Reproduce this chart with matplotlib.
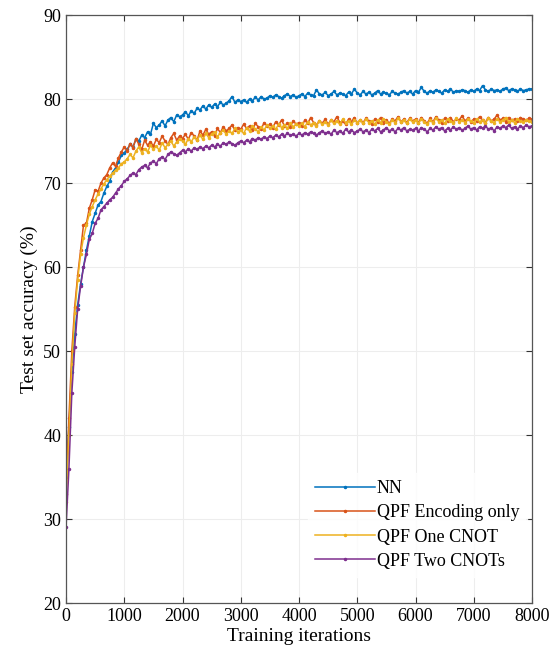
import numpy as np
import matplotlib
matplotlib.use("Agg")
import matplotlib.pyplot as plt

plt.rcParams['font.family'] = ['Liberation Serif', 'DejaVu Serif']
plt.rcParams['mathtext.fontset'] = 'stix'

# test accuracy every 50 training iterations
iterations = list(range(0, 8001, 50))

nn = [
    35.0, 41.0, 47.5, 52.0, 55.5, 58.0, 60.0, 62.0, 63.7, 65.4, 66.4, 67.4, 67.8, 68.8, 69.6, 70.2, 71.3, 71.8, 72.5, 73.3,
    73.6, 74.0, 74.6, 74.3, 75.2, 75.0, 75.7, 75.4, 76.1, 75.8, 77.1, 76.6, 76.9, 77.4, 76.8, 77.5, 77.8, 77.3, 78.1, 77.9,
    78.1, 78.5, 78.0, 78.6, 78.3, 78.9, 78.7, 79.2, 78.8, 79.3, 79.0, 79.4, 79.1, 79.6, 79.3, 79.5, 79.8, 80.3, 79.6, 79.9,
    79.7, 79.9, 79.6, 80.0, 79.8, 80.2, 79.9, 80.3, 80.0, 80.1, 80.4, 80.2, 80.5, 80.3, 80.1, 80.4, 80.6, 80.3, 80.5, 80.2,
    80.4, 80.6, 80.3, 80.7, 80.5, 80.4, 81.1, 80.6, 80.5, 80.8, 80.4, 80.6, 80.9, 80.5, 80.7, 80.6, 80.4, 80.8, 80.6, 81.2,
    80.7, 80.5, 80.9, 80.6, 80.8, 80.5, 80.7, 81.0, 80.6, 80.8, 80.7, 80.5, 80.9, 80.7, 80.6, 80.8, 81.0, 80.7, 80.9, 80.6,
    81.0, 80.8, 81.4, 80.9, 80.7, 81.0, 80.8, 81.1, 80.9, 80.7, 81.1, 80.9, 81.2, 80.8, 81.0, 80.9, 81.1, 81.0, 80.8, 81.1,
    80.9, 81.2, 81.0, 81.6, 81.1, 80.9, 81.2, 81.0, 81.1, 80.9, 81.2, 81.3, 81.0, 81.2, 81.1, 80.9, 81.2, 81.0, 81.1, 81.2,
    81.2,
]

qpf_encoding = [
    33.0, 42.0, 50.0, 55.3, 59.0, 62.0, 65.0, 65.2, 67.0, 68.0, 69.2, 69.0, 70.0, 70.6, 71.0, 71.8, 72.4, 72.0, 73.0, 73.7,
    74.3, 73.8, 74.7, 74.2, 75.3, 74.6, 74.0, 75.1, 74.5, 74.9, 74.4, 75.2, 74.8, 75.6, 75.0, 74.6, 75.4, 75.9, 75.1, 75.6,
    75.3, 75.8, 75.2, 76.0, 75.6, 75.1, 76.2, 75.7, 76.4, 75.8, 76.1, 75.6, 76.5, 76.0, 76.7, 76.2, 76.5, 76.9, 76.3, 76.6,
    76.4, 77.0, 76.5, 76.8, 76.3, 77.1, 76.7, 76.4, 77.2, 76.8, 77.0, 76.6, 77.3, 76.9, 77.5, 76.8, 77.1, 76.7, 77.4, 77.0,
    77.2, 76.8, 77.5, 77.1, 77.8, 77.2, 76.9, 77.4, 77.1, 77.6, 77.0, 77.5, 77.3, 77.9, 77.2, 77.4, 77.0, 77.6, 77.3, 77.8,
    77.1, 77.5, 77.2, 77.7, 77.4, 77.0, 77.6, 77.3, 77.8, 77.2, 77.5, 77.1, 77.6, 77.4, 77.9, 77.3, 77.6, 77.2, 77.7, 77.4,
    77.6, 77.2, 77.8, 77.4, 77.1, 77.7, 77.3, 77.9, 77.5, 77.2, 77.7, 77.4, 77.8, 77.3, 77.6, 77.5, 78.0, 77.4, 77.7, 77.3,
    77.6, 77.4, 77.9, 77.5, 77.2, 77.8, 77.4, 77.6, 78.1, 77.5, 77.7, 77.3, 77.8, 77.5, 77.6, 77.4, 77.8, 77.6, 77.5, 77.7,
    77.6,
]

qpf_one_cnot = [
    32.0, 40.0, 48.5, 54.5, 58.5, 61.5, 63.5, 65.0, 66.3, 67.2, 68.0, 68.7, 69.3, 69.9, 70.4, 70.8, 71.2, 71.5, 71.8, 72.3,
    72.5, 72.9, 73.4, 73.0, 73.8, 74.3, 73.6, 74.1, 73.7, 74.5, 74.0, 74.4, 73.9, 74.8, 74.2, 74.6, 75.0, 74.4, 74.9, 75.2,
    75.0, 74.6, 75.3, 74.9, 75.5, 75.1, 75.7, 75.2, 75.9, 75.4, 75.8, 76.1, 75.5, 76.0, 76.3, 75.8, 76.2, 75.9, 76.5, 76.1,
    76.3, 75.9, 76.6, 76.2, 76.8, 76.4, 76.1, 76.7, 76.3, 76.9, 76.5, 76.8, 76.4, 77.0, 76.6, 76.9, 76.5, 77.1, 76.7, 77.0,
    76.8, 77.1, 76.7, 77.3, 76.9, 77.2, 76.8, 77.4, 77.0, 77.3, 76.9, 77.5, 77.1, 77.4, 77.0, 77.6, 77.2, 77.4, 77.0, 77.5,
    77.2, 77.5, 77.1, 77.6, 77.2, 77.4, 77.0, 77.5, 77.2, 77.6, 77.3, 77.0, 77.5, 77.2, 77.7, 77.3, 77.5, 77.1, 77.6, 77.3,
    77.5, 77.1, 77.6, 77.3, 77.0, 77.5, 77.2, 77.7, 77.3, 77.5, 77.1, 77.6, 77.4, 77.2, 77.7, 77.3, 77.5, 77.2, 77.6, 77.4,
    77.2, 77.6, 77.3, 77.5, 77.1, 77.7, 77.4, 77.2, 77.6, 77.3, 77.5, 77.8, 77.3, 77.5, 77.2, 77.6, 77.4, 77.3, 77.5, 77.4,
    77.3,
]

qpf_two_cnots = [
    29.0, 36.0, 45.0, 50.5, 55.0, 57.7, 60.0, 61.5, 63.3, 64.0, 65.2, 65.8, 66.8, 67.2, 67.6, 68.0, 68.3, 68.8, 69.3, 69.7,
    70.2, 70.5, 70.9, 71.2, 71.0, 71.6, 71.9, 72.1, 71.8, 72.4, 72.6, 72.3, 72.9, 73.1, 72.8, 73.4, 73.7, 73.5, 73.3, 73.6,
    73.9, 73.7, 74.1, 73.8, 74.2, 74.0, 74.3, 74.1, 74.4, 74.2, 74.5, 74.3, 74.6, 74.4, 74.8, 74.6, 74.9, 74.7, 74.5, 74.8,
    75.0, 74.8, 75.1, 74.9, 75.3, 75.1, 75.4, 75.2, 75.5, 75.3, 75.6, 75.4, 75.7, 75.5, 75.8, 75.6, 75.9, 75.7, 75.8, 75.6,
    75.9, 75.7, 76.0, 75.8, 76.1, 75.9, 75.7, 76.0, 76.2, 75.9, 76.1, 75.8, 76.3, 76.0, 76.2, 75.9, 76.4, 76.1, 76.3, 76.0,
    76.2, 76.4, 76.1, 76.3, 76.0, 76.4, 76.2, 76.5, 76.1, 76.3, 76.6, 76.2, 76.4, 76.1, 76.5, 76.3, 76.6, 76.2, 76.4, 76.3,
    76.5, 76.2, 76.6, 76.4, 76.1, 76.5, 76.3, 76.7, 76.4, 76.6, 76.2, 76.5, 76.3, 76.7, 76.4, 76.6, 76.3, 76.5, 76.8, 76.4,
    76.6, 76.3, 76.7, 76.5, 76.8, 76.4, 76.6, 76.2, 76.7, 76.5, 76.8, 76.6, 76.9, 76.5, 76.7, 76.4, 76.8, 76.6, 76.9, 76.7,
    76.8,
]

labels = ["NN", "QPF Encoding only", "QPF One CNOT", "QPF Two CNOTs"]
colors = ["#0072BD", "#D95319", "#EDB120", "#7E2F8E"]


def main():
    fig = plt.figure(figsize=(5.52, 6.71), dpi=100)
    ax = fig.add_axes([0.1196, 0.1013, 0.8442, 0.8763])

    for series, lab, col in zip([nn, qpf_encoding, qpf_one_cnot, qpf_two_cnots], labels, colors):
        ax.plot(iterations, series, '.-', color=col, label=lab,
                linewidth=1.1, markersize=3)

    ax.set_xlim(0, 8000)
    ax.set_ylim(20, 90)
    ax.set_xticks(range(0, 8001, 1000))
    ax.set_yticks(range(20, 91, 10))
    ax.grid(True, color="#ededed", linewidth=0.8)
    ax.set_axisbelow(True)
    ax.tick_params(direction="in", top=True, right=True, labelsize=13,
                   length=4, color="#333333")
    for sp in ax.spines.values():
        sp.set_color("#555555")
        sp.set_linewidth(0.9)

    ax.set_xlabel("Training iterations", fontsize=14, labelpad=2)
    ax.set_ylabel("Test set accuracy (%)", fontsize=14, labelpad=4)

    leg = ax.legend(loc="lower right", bbox_to_anchor=(1.0, 0.035), fontsize=13,
                    frameon=True, fancybox=False, edgecolor="white",
                    handlelength=3.3, handletextpad=0.1, labelspacing=0.4,
                    borderaxespad=0.3)
    leg.get_frame().set_facecolor("white")

    fig.savefig("out.png", dpi=100)


if __name__ == "__main__":
    main()
